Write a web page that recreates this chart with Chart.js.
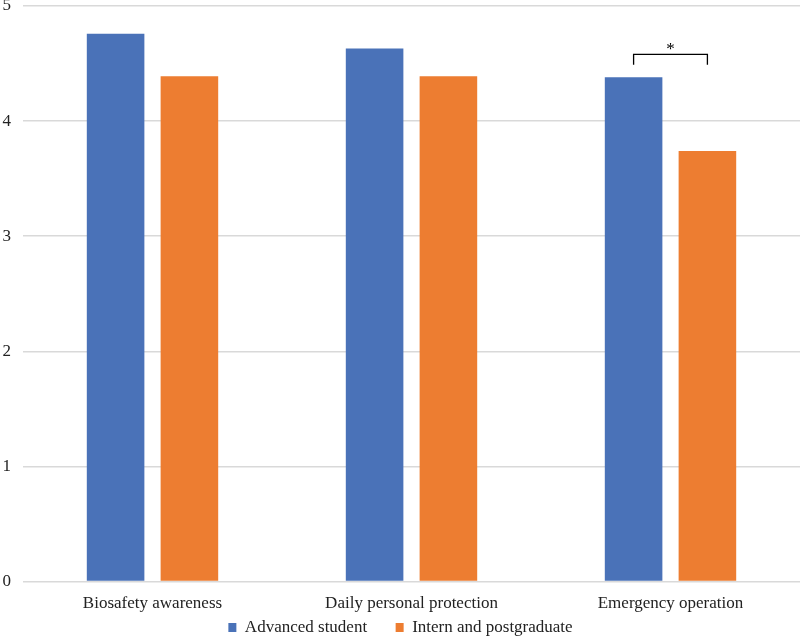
<!DOCTYPE html>
<html>
<head>
<meta charset="utf-8">
<script src="https://cdn.jsdelivr.net/npm/chart.js@4.4.0/dist/chart.umd.min.js"></script>
<style>
	html, body { margin: 0; padding: 0; background: #fff; }
	#wrap { width: 800px; height: 644px; }
</style>
</head>
<body>
<div id="wrap"><canvas id="chart"></canvas></div>
<script>
const categories = ['Biosafety awareness', 'Daily personal protection', 'Emergency operation'];
const advancedStudent = [4.76, 4.63, 4.38];
const internPostgrad = [4.39, 4.39, 3.74];
const yTicks = [0, 1, 2, 3, 4, 5];

// significance bracket over "Emergency operation"
const sigIndex = 2;
const sigLevel = 4.58;
const sigDrop = 0.09;

const bracketPlugin = {
	id: 'bracket',
	afterDatasetsDraw( chart ){
		const ctx = chart.ctx;
		const y = chart.scales.y;
		const a = chart.getDatasetMeta(0).data[sigIndex];
		const b = chart.getDatasetMeta(1).data[sigIndex];
		const top = y.getPixelForValue( sigLevel );
		const bot = y.getPixelForValue( sigLevel - sigDrop );
		ctx.save();
		ctx.strokeStyle = '#000';
		ctx.lineWidth = 1.3;
		ctx.beginPath();
		ctx.moveTo( a.x, bot );
		ctx.lineTo( a.x, top );
		ctx.lineTo( b.x, top );
		ctx.lineTo( b.x, bot );
		ctx.stroke();
		ctx.fillStyle = '#000';
		ctx.font = '17px "Liberation Serif"';
		ctx.textAlign = 'center';
		ctx.textBaseline = 'bottom';
		ctx.fillText( '*', (a.x + b.x) / 2, top + 4 );
		ctx.restore();
	}
};

// let the "5" label hang over the top edge like the original
const noOverhang = axis => {
	axis.paddingTop = 0; axis.paddingBottom = 0;
	axis.paddingLeft = 0; axis.paddingRight = 0;
};

new Chart( document.getElementById('chart'), {
	type: 'bar',
	data: {
		labels: categories,
		datasets: [
			{ label: 'Advanced student', data: advancedStudent, backgroundColor: '#4a72b8' },
			{ label: 'Intern and postgraduate', data: internPostgrad, backgroundColor: '#ed7d31' }
		]
	},
	options: {
		responsive: true,
		maintainAspectRatio: false,
		animation: false,
		datasets: { bar: { categoryPercentage: 0.57, barPercentage: 0.78 } },
		layout: { padding: { top: 6, right: 0, left: 1, bottom: -2 } },
		plugins: {
			legend: {
				position: 'bottom',
				labels: {
					boxWidth: 8, boxHeight: 9, padding: 3,
					color: '#222',
					font: { family: 'Liberation Serif', size: 17 },
					// wider gap between the two entries
					generateLabels: chart => {
						const items = Chart.defaults.plugins.legend.labels.generateLabels( chart );
						items.forEach( (it, i) => { if ( i < items.length - 1 ) it.text += '      '; } );
						return items;
					}
				}
			},
			tooltip: { enabled: false }
		},
		scales: {
			x: {
				grid: { display: false },
				border: { display: false },
				afterFit: axis => { noOverhang( axis ); axis.height -= 2; },
				ticks: { color: '#222', padding: 4, font: { family: 'Liberation Serif', size: 17 } }
			},
			y: {
				min: 0, max: 5,
				afterBuildTicks: axis => { axis.ticks = yTicks.map(v => ({ value: v })); },
				afterFit: axis => { noOverhang( axis ); axis.width = 22; },
				grid: { color: '#d9d9d9', lineWidth: 1.5, drawTicks: false },
				border: { display: false },
				ticks: { color: '#222', padding: 12, font: { family: 'Liberation Serif', size: 17 } }
			}
		}
	},
	plugins: [ bracketPlugin ]
});
</script>
</body>
</html>
